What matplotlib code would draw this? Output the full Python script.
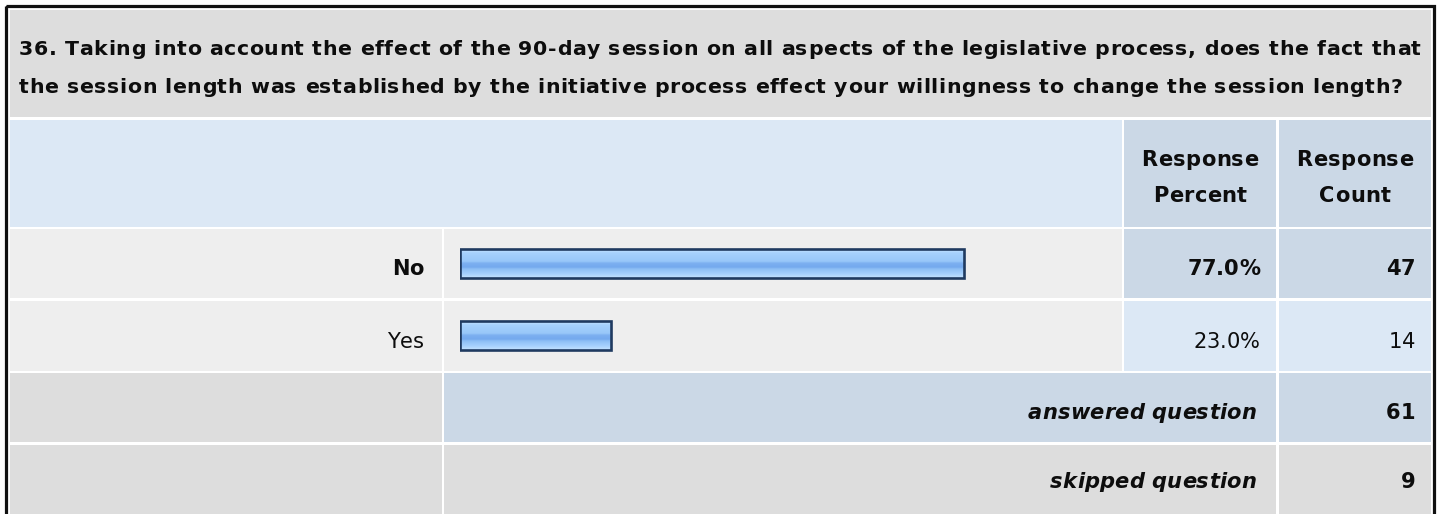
import matplotlib
matplotlib.use("Agg")
import matplotlib.pyplot as plt
import numpy as np
from matplotlib.patches import Rectangle
from matplotlib.colors import LinearSegmentedColormap
from matplotlib.font_manager import FontProperties, findfont
from matplotlib.ft2font import FT2Font

plt.rcParams['font.family'] = ['DejaVu Sans']

# ---- data ----
title_lines = [
    "36. Taking into account the effect of the 90-day session on all aspects of the legislative process, does the fact that",
    "the session length was established by the initiative process effect your willingness to change the session length?",
]
categories = ["No", "Yes"]
percents = [77.0, 23.0]
counts = [47, 14]
answered = 61
skipped = 9
header_labels = ["Response\nPercent", "Response\nCount"]

# ---- colours ----
C_TITLE = "#dddddd"
C_HEAD_LIGHT = "#dce8f5"
C_HEAD = "#cbd8e6"
C_ROW = "#eeeeee"
C_GRAY = "#dddddd"
C_BORDER = "#111111"
C_TEXT = "#0d0d0d"
FAMILY = "DejaVu Sans"

W, H = 1440, 514
fig = plt.figure(figsize=(W / 100, H / 100), dpi=100)
fig.patch.set_facecolor("white")
ax = fig.add_axes([0, 0, 1, 1])
ax.set_xlim(0, W)
ax.set_ylim(H, 0)
ax.axis("off")

_font_cache = {}


def _advances(s, prop, size_px):
    key = (prop.get_weight(), prop.get_style(), size_px)
    if key not in _font_cache:
        ft = FT2Font(findfont(prop))
        ft.set_size(size_px * 0.72, 100)
        _font_cache[key] = ft
    ft = _font_cache[key]
    return [ft.load_char(ord(c)).linearHoriAdvance / 65536.0 for c in s]


def spaced_text(x, y, s, size_px=21.0, spacing=0.3, ha="left", weight="normal", style="normal",
                fit_width=None):
    """Draw text with a little extra letter spacing (pixel coordinates). Returns spacing used."""
    prop = FontProperties(family=FAMILY, weight=weight, style=style)
    advs = _advances(s, prop, size_px)
    if fit_width is not None:
        spacing = (fit_width - sum(advs)) / (len(s) - 1)
    total = sum(advs) + spacing * (len(s) - 1)
    if ha == "right":
        pos = x - total
    elif ha == "center":
        pos = x - total / 2
    else:
        pos = x
    for c, a in zip(s, advs):
        if c != " ":
            ax.text(pos, y, c, fontproperties=prop, fontsize=size_px * 0.72, va="baseline",
                    ha="left", color=C_TEXT, zorder=4)
        pos += a + spacing
    return spacing


def cell(x0, y0, x1, y1, color):
    ax.add_patch(Rectangle((x0, y0), x1 - x0, y1 - y0, facecolor=color, edgecolor="none", zorder=1))


# layout (pixels)
X_L, X_LAB, X_BAR0, X_BAR1, X_P0, X_P1, X_C0, X_C1 = 10, 442, 444, 1122, 1124, 1276, 1279, 1431
Y_T0, Y_T1 = 10, 117
Y_H0, Y_H1 = 120, 227
row_y = [(229, 298), (301, 371)]
Y_A0, Y_A1 = 373, 442
Y_S0, Y_S1 = 445, 520

# outer border
ax.add_patch(Rectangle((5.5, 6), 1433.5 - 5.5, 600, facecolor="none", edgecolor=C_BORDER, linewidth=2.3, zorder=5))

# title
cell(X_L, Y_T0, X_C1, Y_T1, C_TITLE)
sp = spaced_text(19, 55, title_lines[0], size_px=20.5, weight="bold", fit_width=1402)
spaced_text(19, 93, title_lines[1], size_px=20.5, spacing=sp, weight="bold")

# header
cell(X_L, Y_H0, X_BAR1, Y_H1, C_HEAD_LIGHT)
cell(X_P0, Y_H0, X_P1, Y_H1, C_HEAD)
cell(X_C0, Y_H0, X_C1, Y_H1, C_HEAD)
for (x0, x1), lab in zip([(X_P0, X_P1), (X_C0, X_C1)], header_labels):
    l1, l2 = lab.split("\n")
    spaced_text((x0 + x1) / 2, 166, l1, ha="center", weight="bold", spacing=0.4)
    spaced_text((x0 + x1) / 2, 202, l2, ha="center", weight="bold", spacing=0.4)

# answer rows
max_i = int(np.argmax(percents))
for i, (cat, p, c) in enumerate(zip(categories, percents, counts)):
    y0, y1 = row_y[i]
    bold = (i == max_i)
    vcol = C_HEAD if bold else C_HEAD_LIGHT
    cell(X_L, y0, X_LAB, y1, C_ROW)
    cell(X_BAR0, y0, X_BAR1, y1, C_ROW)
    cell(X_P0, y0, X_P1, y1, vcol)
    cell(X_C0, y0, X_C1, y1, vcol)
    yb = y1 - 23
    fw = "bold" if bold else "normal"
    spaced_text(424, yb, cat, ha="right", weight=fw)
    spaced_text(1260, yb, f"{p:.1f}%", ha="right", weight=fw, spacing=0.0)
    spaced_text(1415, yb, f"{c}", ha="right", weight=fw, spacing=0.0)

# answered / skipped
cell(X_L, Y_A0, X_LAB, Y_A1, C_GRAY)
cell(X_BAR0, Y_A0, X_P1, Y_A1, C_HEAD)
cell(X_C0, Y_A0, X_C1, Y_A1, C_HEAD)
cell(X_L, Y_S0, X_LAB, Y_S1, C_GRAY)
cell(X_BAR0, Y_S0, X_P1, Y_S1, C_GRAY)
cell(X_C0, Y_S0, X_C1, Y_S1, C_GRAY)
for yb, lab, val in [(419, "answered question", answered), (488, "skipped question", skipped)]:
    spaced_text(1256, yb, lab, ha="right", weight="bold", style="italic", spacing=0.15)
    spaced_text(1415, yb, f"{val}", ha="right", weight="bold", spacing=0.0)

# ---- bars in their own axes (0-100 % scale) ----
bar_left, bar_full = 460, 655
bax = fig.add_axes([bar_left / W, 1 - 371.5 / H, bar_full / W, 144 / H])
bax.set_xlim(0, 100)
bax.set_ylim(len(categories) - 0.5, -0.5)
bax.axis("off")
bax.patch.set_alpha(0)

grad = LinearSegmentedColormap.from_list("bargrad", [
    (0.00, "#d8ecff"), (0.08, "#bcdeff"), (0.16, "#a6d1fd"), (0.44, "#98c7f9"),
    (0.50, "#7db0f1"), (0.64, "#74a9ee"), (0.70, "#8dbef5"), (0.86, "#a5d0fd"), (1.00, "#c3e2ff")])
gimg = np.linspace(0, 1, 64).reshape(-1, 1)

bars = bax.barh(range(len(categories)), percents, height=0.41, facecolor="none",
                edgecolor="#1f3a60", linewidth=1.9, zorder=3)
for b in bars:
    x0, y0, w, h = b.get_x(), b.get_y(), b.get_width(), b.get_height()
    im = bax.imshow(gimg, cmap=grad, aspect="auto", extent=(x0, x0 + w, y0 + h, y0),
                    interpolation="bilinear", zorder=2)
    im.set_clip_path(b)
bax.set_xlim(0, 100)
bax.set_ylim(len(categories) - 0.5, -0.5)

fig.savefig("out.png", dpi=100, facecolor="white")
